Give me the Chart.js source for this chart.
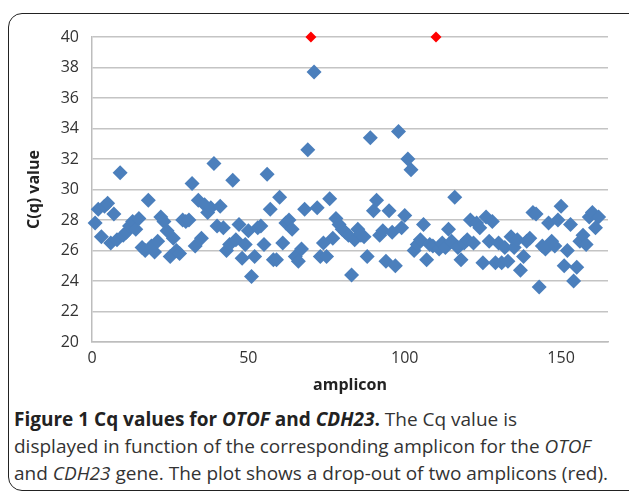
<!DOCTYPE html>
<html>
<head>
<meta charset="utf-8">
<script src="https://cdn.jsdelivr.net/npm/chart.js@4"></script>
<style>
  body { margin: 0; background: #fff; width: 629px; height: 496px; overflow: hidden; position: relative; font-family: "Open Sans", sans-serif; }
  #frame { position: absolute; left: 8px; top: 13px; width: 660px; height: 476px; border: 1.5px solid #222; border-radius: 14px; }
  #wrap { position: absolute; left: 0; top: 0; width: 629px; height: 400px; }
  #caption { position: absolute; left: 14px; top: 406px; font-size: 19px; line-height: 27px; color: #333; white-space: nowrap; }
  #caption b { color: #222; }
</style>
</head>
<body>
<div id="frame"></div>
<div id="wrap"><canvas id="chart"></canvas></div>
<div id="caption">
  <b>Figure 1 Cq values for <i>OTOF</i> and <i>CDH23</i>.</b> The Cq value is<br>
  displayed in function of the corresponding amplicon for the <i>OTOF</i><br>
  and <i>CDH23</i> gene. The plot shows a drop-out of two amplicons (red).
</div>
<script>
// amplicons that gave a Cq value
const amplicons = [
  1, 2, 3, 4, 5, 6, 7, 8, 9, 10, 11, 12, 13, 14, 15, 16, 17, 18, 19, 20,
  21, 22, 23, 24, 25, 26, 27, 28, 29, 30, 31, 32, 33, 34, 35, 36, 37, 38, 39, 40,
  41, 42, 43, 44, 45, 46, 47, 48, 49, 50, 51, 52, 53, 54, 55, 56, 57, 58, 59, 60,
  61, 62, 63, 64, 65, 66, 67, 68, 69, 71, 72, 73, 74, 75, 76, 77, 78, 79, 80,
  81, 82, 83, 84, 85, 86, 87, 88, 89, 90, 91, 92, 93, 94, 95, 96, 97, 98, 99, 100,
  101, 102, 103, 104, 105, 106, 107, 108, 109, 111, 112, 113, 114, 115, 116, 117, 118, 119, 120,
  121, 122, 123, 124, 125, 126, 127, 128, 129, 130, 131, 132, 133, 134, 135, 136, 137, 138, 139, 140,
  141, 142, 143, 144, 145, 146, 147, 148, 149, 150, 151, 152, 153, 154, 155, 156, 157, 158, 159, 160,
  161, 162
]
const cqValues = [
  27.8, 28.7, 26.9, 28.9, 29.1, 26.5, 28.4, 26.7, 31.1, 27.0, 27.2, 27.6, 27.9, 27.4, 28.1, 26.2, 26.0, 29.3, 26.3, 25.9,
  26.6, 28.2, 27.9, 27.3, 25.6, 26.8, 26.0, 25.8, 28.0, 27.9, 28.0, 30.4, 26.3, 29.3, 26.8, 29.0, 28.5, 28.8, 31.7, 27.6,
  28.9, 27.5, 26.0, 26.4, 30.6, 26.7, 27.7, 25.5, 26.4, 27.3, 24.3, 25.6, 27.5, 27.6, 26.4, 31.0, 28.7, 25.4, 25.4, 29.5,
  26.5, 27.8, 28.0, 27.4, 25.6, 25.3, 26.1, 28.7, 32.6, 37.7, 28.8, 25.6, 26.5, 25.6, 29.4, 26.8, 28.1, 27.7, 27.4,
  27.2, 27.0, 24.4, 26.7, 27.4, 27.0, 26.9, 25.6, 33.4, 28.6, 29.3, 27.0, 27.3, 25.3, 28.6, 27.2, 25.0, 33.8, 27.5, 28.3,
  32.0, 31.3, 26.0, 26.4, 26.7, 27.7, 25.4, 26.4, 26.3, 26.1, 26.5, 26.2, 27.4, 26.6, 29.5, 26.2, 25.4, 26.5, 26.7,
  28.0, 26.5, 27.8, 27.5, 25.2, 28.2, 26.6, 27.9, 25.2, 26.5, 25.2, 26.2, 25.3, 26.9, 26.2, 26.7, 24.7, 25.6, 26.6, 26.8,
  28.5, 28.4, 23.6, 26.3, 26.1, 27.8, 26.6, 26.3, 28.0, 28.9, 25.0, 26.0, 27.7, 24.0, 24.9, 26.6, 27.0, 26.4, 28.2, 28.5,
  27.5, 28.2
]
// drop-outs (no amplification, plotted at 40)
const dropAmplicons = [70, 110]
const dropValues = [40, 40]

const yTicks = [20, 22, 24, 26, 28, 30, 32, 34, 36, 38, 40]

const okPoints = amplicons.map((a, i) => ({ x: a, y: cqValues[i] }))
const dropPoints = dropAmplicons.map((a, i) => ({ x: a, y: dropValues[i] }))

const font = { family: '"Open Sans", sans-serif', size: 16 }
const titleFont = { family: '"Open Sans", sans-serif', size: 16, weight: 'bold' }

new Chart(document.getElementById('chart'), {
  type: 'scatter',
  data: {
    datasets: [
      {
        label: 'drop-out',
        data: dropPoints,
        pointStyle: 'rectRot',
        pointRadius: 5.5,
        backgroundColor: '#ff0000',
        borderColor: '#ff0000',
        borderWidth: 0,
        clip: false,
        order: 0
      },
      {
        label: 'Cq',
        data: okPoints,
        pointStyle: 'rectRot',
        pointRadius: 7.5,
        backgroundColor: '#4b7fbc',
        borderColor: '#4b7fbc',
        borderWidth: 0,
        clip: false,
        order: 1
      }
    ]
  },
  options: {
    responsive: true,
    maintainAspectRatio: false,
    animation: false,
    layout: { padding: { left: 0, top: 37, right: 21, bottom: 0 } },
    plugins: { legend: { display: false }, tooltip: { enabled: false } },
    scales: {
      x: {
        type: 'linear',
        min: 0,
        max: 165,
        grid: { display: false, drawTicks: false },
        border: { display: true, color: '#bdbdbd', width: 1.5 },
        ticks: { stepSize: 50, includeBounds: false, padding: 7, color: '#333', font: font, maxRotation: 0 },
        title: { display: true, text: 'amplicon', color: '#222', font: titleFont, padding: { top: 0, bottom: 5 } },
        afterFit: s => { s.height = 58 }
      },
      y: {
        min: 20,
        max: 40,
        afterBuildTicks: s => { s.ticks = yTicks.map(v => ({ value: v })) },
        grid: { color: '#c4c4c4', lineWidth: 1.5, drawTicks: false },
        border: { display: true, color: '#bdbdbd', width: 1.5 },
        ticks: { padding: 13, color: '#333', font: font },
        title: { display: true, text: 'C(q) value', color: '#222', font: titleFont, padding: { top: 25, bottom: 0 } },
        afterFit: s => { s.width = 92 }
      }
    }
  }
})
</script>
</body>
</html>
